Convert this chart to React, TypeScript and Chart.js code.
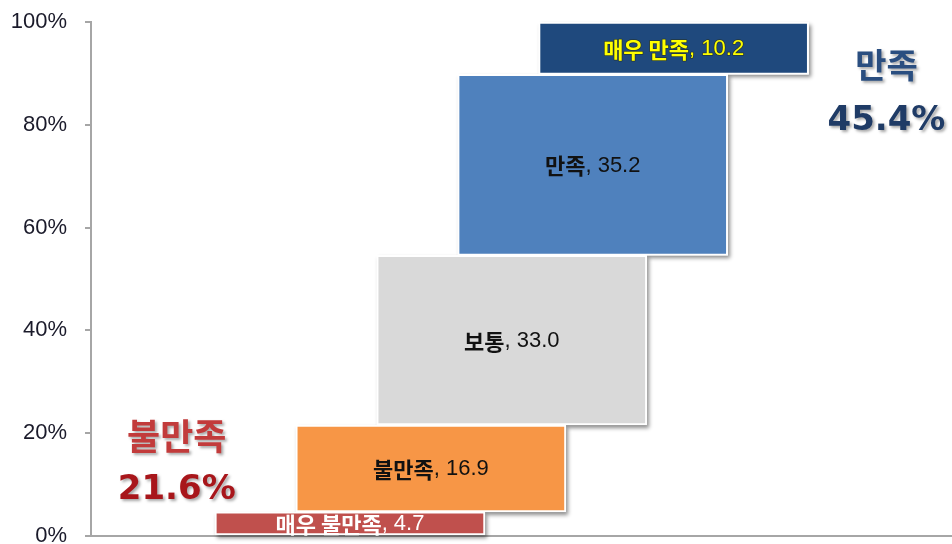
import React, { useEffect, useRef } from 'react';
import { Chart, registerables } from 'chart.js';

Chart.register(...registerables);

// ---- data ----
const categories = ['매우 불만족', '불만족', '보통', '만족', '매우 만족'];
const values = [4.7, 16.9, 33.0, 35.2, 10.2];
const barColors = ['#c0504d', '#f79646', '#d9d9d9', '#4f81bd', '#1f497d'];
const labelColors = ['#ffffff', '#111111', '#111111', '#111111', '#ffff00'];
const yTicks = [0, 20, 40, 60, 80, 100];
const groupNames = ['불만족', '만족'];
const groupValues = [21.6, 45.4];

const starts: number[] = [];
values.reduce((acc, v) => {
  starts.push(acc);
  return acc + v;
}, 0);

// annotation anchor points in chart (scale) coordinates
const groupAnchors = [
  { x: -2.14, nameY: 19.4, valueY: 8.9, nameColor: '#c23b3b', valueColor: '#a8161b' },
  { x: 6.63, nameY: 91.6, valueY: 80.7, nameColor: '#2a4e80', valueColor: '#1f3b66' },
];

const decorPlugin = {
  id: 'decor',
  beforeDatasetsDraw(chart: any) {
    const ctx = chart.ctx;
    const meta = chart.getDatasetMeta(0);
    meta.data.forEach((el: any) => {
      const { x, y, base, width } = el.getProps(['x', 'y', 'base', 'width'], true);
      const top = Math.min(y, base);
      const h = Math.abs(base - y);
      ctx.save();
      ctx.shadowColor = 'rgba(0,0,0,0.45)';
      ctx.shadowBlur = 4;
      ctx.shadowOffsetX = 2;
      ctx.shadowOffsetY = 3;
      ctx.fillStyle = '#ffffff';
      ctx.fillRect(x - width / 2, top, width, h);
      ctx.restore();
    });
  },
  afterDatasetsDraw(chart: any) {
    const ctx = chart.ctx;
    const meta = chart.getDatasetMeta(0);
    ctx.save();
    ctx.textBaseline = 'middle';
    ctx.textAlign = 'left';
    meta.data.forEach((el: any, i: number) => {
      const { x, y, base } = el.getProps(['x', 'y', 'base'], true);
      const cy = (y + base) / 2 + 1;
      const namePart = categories[i];
      const numPart = ', ' + values[i].toFixed(1);
      const f1 = "bold 22px 'Noto Sans CJK KR'";
      const f2 = "22px 'Liberation Sans', Arial, sans-serif";
      ctx.font = f1;
      const w1 = ctx.measureText(namePart).width;
      ctx.font = f2;
      const w2 = ctx.measureText(numPart).width;
      const sx = x - (w1 + w2) / 2;
      if (i === 4) {
        ctx.strokeStyle = 'rgba(40,40,0,0.55)';
        ctx.lineWidth = 1.5;
        ctx.lineJoin = 'round';
        ctx.font = f1;
        ctx.strokeText(namePart, sx, cy);
        ctx.font = f2;
        ctx.strokeText(numPart, sx + w1, cy);
      }
      ctx.fillStyle = labelColors[i];
      ctx.font = f1;
      ctx.fillText(namePart, sx, cy);
      ctx.font = f2;
      ctx.fillText(numPart, sx + w1, cy);
    });
    ctx.restore();

    // group summary annotations
    const xs = chart.scales.x;
    const ys = chart.scales.y;
    groupAnchors.forEach((a, i) => {
      const px = xs.getPixelForValue(a.x);
      ctx.save();
      ctx.textAlign = 'center';
      ctx.textBaseline = 'middle';
      ctx.shadowColor = 'rgba(0,0,0,0.35)';
      ctx.shadowBlur = 3;
      ctx.shadowOffsetX = 2;
      ctx.shadowOffsetY = 2;
      ctx.font = `bold ${i === 0 ? 36 : 34}px 'Noto Sans CJK KR'`;
      ctx.fillStyle = a.nameColor;
      ctx.fillText(groupNames[i], px, ys.getPixelForValue(a.nameY));
      ctx.font = "bold 34px 'DejaVu Sans'";
      ctx.fillStyle = a.valueColor;
      ctx.fillText(groupValues[i].toFixed(1) + '%', px, ys.getPixelForValue(a.valueY));
      ctx.restore();
    });
  },
};

export default function App() {
  const canvasRef = useRef<HTMLCanvasElement | null>(null);

  useEffect(() => {
    const canvas = canvasRef.current;
    if (!canvas) return;
    const chart = new Chart(canvas, {
      type: 'bar',
      data: {
        datasets: [
          {
            data: categories.map((_, i) => ({ x: i, y: [starts[i], starts[i] + values[i]] })) as any,
            backgroundColor: barColors,
            borderColor: '#ffffff',
            borderWidth: 2,
            borderSkipped: false,
            barThickness: 270,
          },
        ],
      },
      options: {
        responsive: false,
        animation: false,
        devicePixelRatio: 1,
        layout: { padding: { top: 22, bottom: 8, left: 0, right: 0 } },
        plugins: {
          legend: { display: false },
          tooltip: { enabled: false },
        },
        scales: {
          x: {
            type: 'linear',
            min: -3.2,
            max: 7.44,
            display: false,
            offset: false,
          },
          y: {
            min: 0,
            max: 100,
            afterBuildTicks: (s: any) => {
              s.ticks = yTicks.map((v) => ({ value: v }));
            },
            afterFit: (s: any) => {
              s.width = 91;
              s.paddingTop = 0;
              s.paddingBottom = 0;
            },
            ticks: {
              callback: (v: any) => v + '%',
              color: '#1a1a2a',
              font: { family: "'Liberation Sans', Arial, sans-serif", size: 22, lineHeight: 1 },
              padding: 18,
            },
            grid: {
              color: (c: any) => (c.tick && c.tick.value === 0 ? '#a6a6a6' : 'rgba(0,0,0,0)'),
              tickColor: '#a6a6a6',
              tickLength: 6,
              lineWidth: 2,
            },
            border: { color: '#a6a6a6', width: 2 },
          },
        },
      },
      plugins: [decorPlugin],
    });
    return () => chart.destroy();
  }, []);

  return (
    <div
      style={{
        position: 'fixed',
        left: 0,
        top: 0,
        width: 952,
        height: 544,
        overflow: 'hidden',
        background: '#ffffff',
      }}
    >
      <canvas ref={canvasRef} width={952} height={544} style={{ display: 'block' }} />
    </div>
  );
}
